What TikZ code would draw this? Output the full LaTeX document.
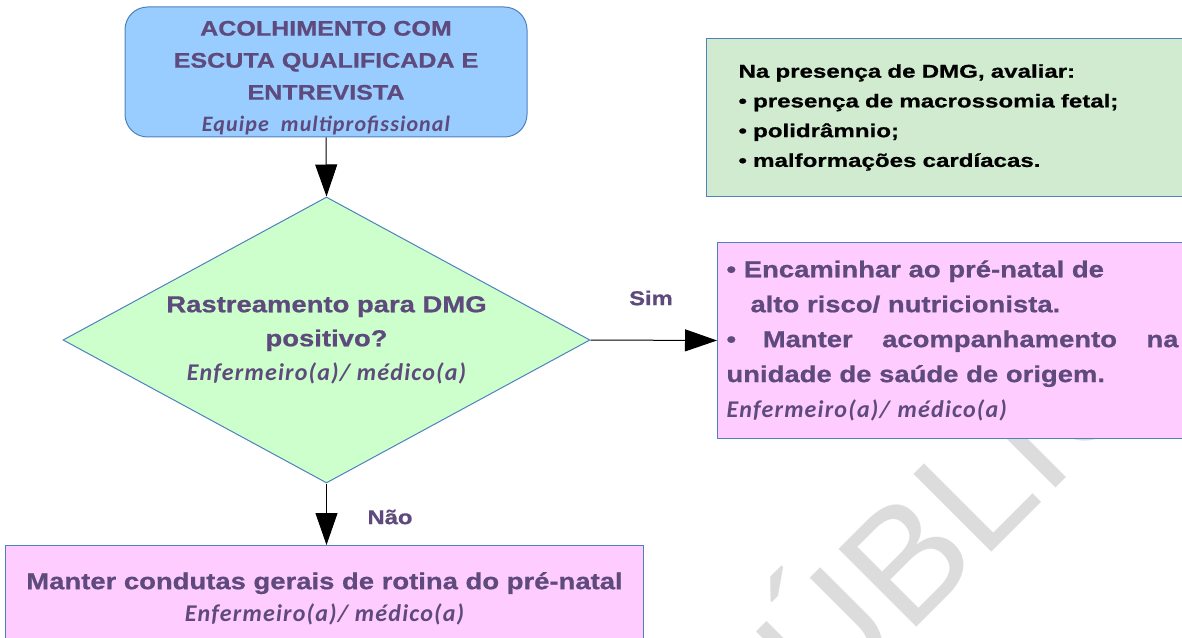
\documentclass[tikz,border=0pt]{standalone}
\usepackage{fontspec}
\usepackage{tikz}
\usetikzlibrary{
arrows.meta,
shapes.geometric,
}
\setmainfont{Liberation Sans}
\newfontfamily\boxfont[FakeStretch=1.19, BoldFeatures={FakeBold=0.8}]{Liberation Sans}
\newfontfamily\notefont[FakeStretch=1.3, BoldFeatures={FakeBold=0.8}]{Liberation Sans}
\newfontfamily\rolefont[LetterSpace=5]{Carlito}
\newfontfamily\markfont{Liberation Sans}
\newcommand{\rolestyle}{\rolefont\bfseries\itshape\fontsize{18}{24}\selectfont}

\definecolor{txtpurple}{HTML}{5E4A7C}
\definecolor{edgeblue}{HTML}{4F81BD}
\definecolor{fillblue}{HTML}{99CCFF}
\definecolor{fillmint}{HTML}{CCFFCC}
\definecolor{fillpink}{HTML}{FFCCFF}
\definecolor{fillsage}{HTML}{D0EBD0}
\definecolor{markgray}{HTML}{DCDCDC}

\begin{document}
\begin{tikzpicture}[x=0.75pt, y=-0.75pt,
		box/.style={draw=edgeblue, line width=0.75pt, inner sep=0pt, text=txtpurple},
		arr/.style={line width=0.75pt, -{Triangle[length=24pt, width=16.5pt]}},
		lbl/.style={text=txtpurple, font=\boxfont\bfseries\fontsize{15}{18}\selectfont}]
	\useasboundingbox (0,0) rectangle (1182,638);
	\clip (0,0) rectangle (1182,638);

	\node[rotate=45, anchor=base west, inner sep=0pt, text=markgray, font=\markfont\fontsize{120}{120}\selectfont] (mark) at (750,794) {PÚBLICO};

	\node[box, fill=fillblue, rounded corners=17pt, minimum width=301.5pt, minimum height=97.5pt,
		align=center, font=\boxfont\bfseries\fontsize{15.8}{24}\selectfont] (acolh) at (326,72)
		{\rule{0pt}{20pt}ACOLHIMENTO COM\\ESCUTA QUALIFICADA E\\ENTREVISTA\\{\rolestyle\fontsize{16.5}{24}\selectfont Equipe\ \ multiprofissional}};

	\node[box, fill=fillmint, diamond, aspect=1.843, minimum width=395.25pt, minimum height=214.5pt,
		align=center, font=\boxfont\bfseries\fontsize{17.3}{25.5}\selectfont] (rastr) at (326.5,340)
		{Rastreamento para DMG\\positivo?\\{\rolestyle Enfermeiro(a)/ médico(a)}};

	\node[box, fill=fillsage, text=black, anchor=north west, inner xsep=24pt, text width=319.5pt,
		minimum height=118.5pt, align=left, font=\notefont\bfseries\fontsize{13.9}{22.3}\selectfont] (aval) at (706,38)
		{Na presença de DMG, avaliar:\\• presença de macrossomia fetal;\\• polidrâmnio;\\• malformações cardíacas.};

	\node[box, fill=fillpink, anchor=north west, inner xsep=6.75pt, text width=339pt,
		minimum height=147pt, align=left, font=\boxfont\bfseries\fontsize{17.3}{26.2}\selectfont] (encam) at (717,242)
		{• Encaminhar ao pré-natal de\\
		\hspace*{18pt}alto risco/ nutricionista.\\
		\makebox[339pt][l]{•\hspace{20pt}Manter\hfill acompanhamento\hfill na}\\
		unidade de saúde de origem.\\
		{\rolestyle Enfermeiro(a)/ médico(a)}};

	\node[box, fill=fillpink, anchor=north west, minimum width=478.5pt, minimum height=79.5pt,
		align=center, font=\boxfont\bfseries\fontsize{17.3}{24}\selectfont] (rotina) at (5,545)
		{Manter condutas gerais de rotina do pré-natal\\{\rolestyle Enfermeiro(a)/ médico(a)}};

	\draw[arr] (acolh.south) -- (rastr.north);
	\draw[arr] (rastr.east) -- (encam.west);
	\draw[arr] (rastr.south) -- (rastr.south |- rotina.north);

	\node[lbl] (sim) at (651,298) {Sim};
	\node[lbl] (nao) at (390,517) {Não};
\end{tikzpicture}
\end{document}
